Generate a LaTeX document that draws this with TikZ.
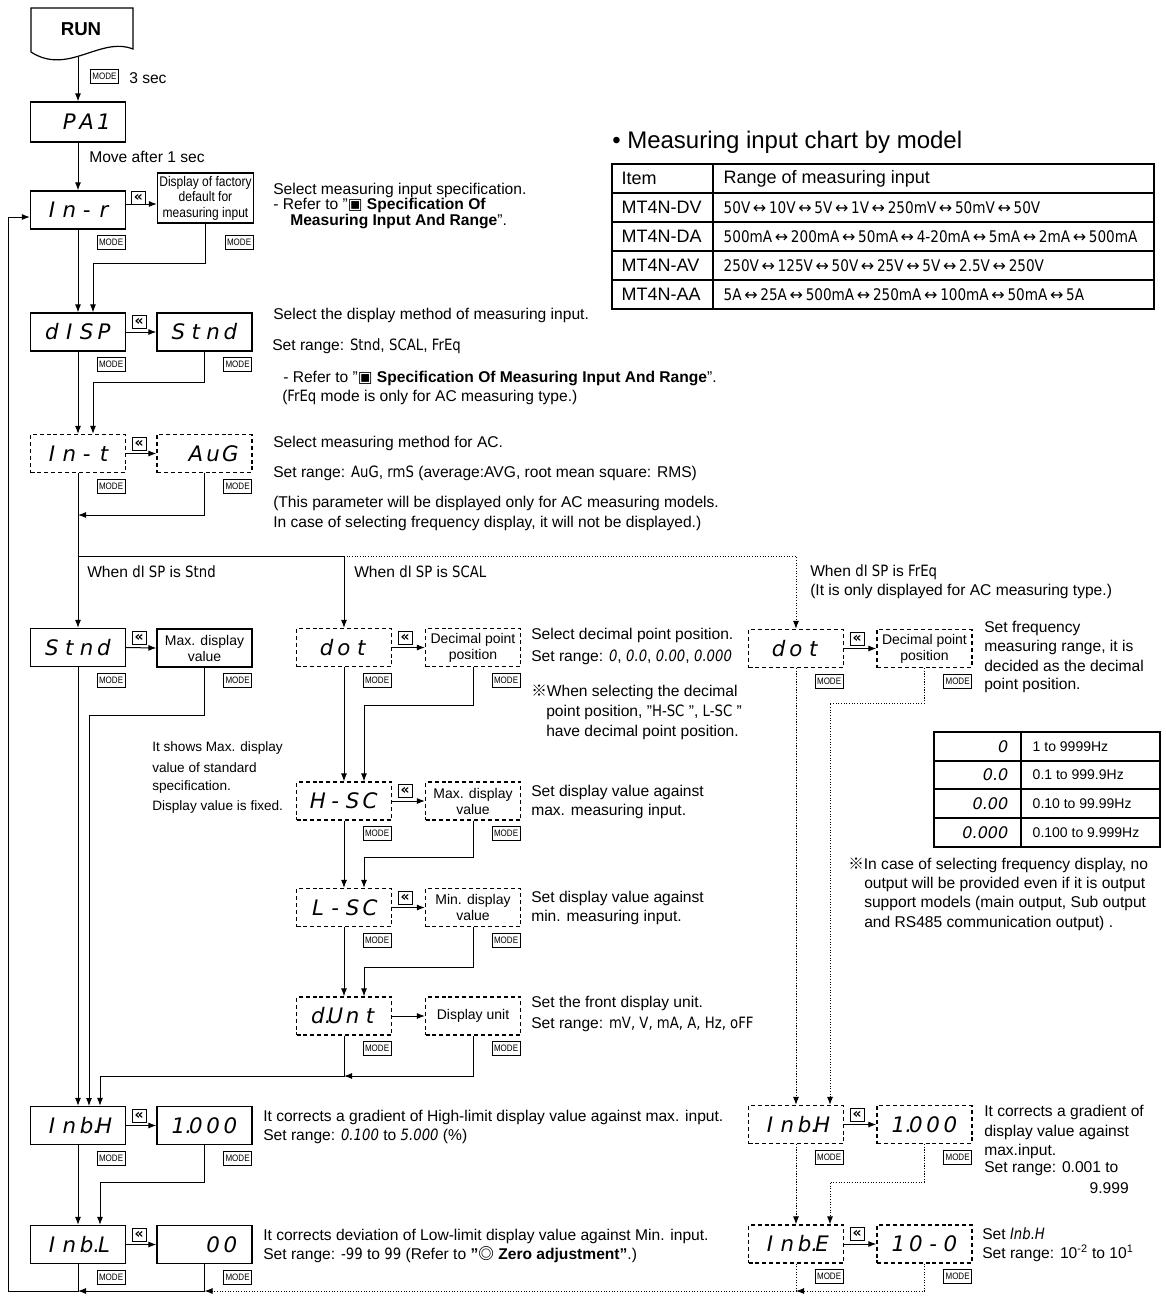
\documentclass[tikz,border=0pt]{standalone}
\usepackage{fontspec}
\setmainfont{Liberation Sans}
\newfontfamily\djv{DejaVu Sans}
\newfontfamily\cjk{Noto Sans CJK JP}
\newfontfamily\nrw[FakeStretch=0.86]{Liberation Sans}
\newfontfamily\segf{DejaVu Sans}
\newfontfamily\segin[FakeStretch=0.85]{DejaVu Sans}
\usetikzlibrary{arrows.meta,calc}
\newcommand\fs[2]{\fontsize{#1pt}{#2pt}\selectfont}
\newcommand\bodyf{\fs{11.7}{14}}
\newcommand\dg[1]{\makebox[13pt][c]{#1}}
\newcommand\sg[1]{{\segin #1}}
\newcommand\sgi[1]{{\segin\itshape #1}}
\newcommand\lr{{\djv\,↔\,}}
\newcommand\refm{{\cjk ※}}
\newcommand\dmk{{\cjk ◎}}
\newcommand\sqm{{\djv ▣}}
\newcommand\tline[4]{\node[txt] (#1) at (#2,#3) {#4};}
\newcommand\modeof[2]{\node[modebox] (#1) at ($(#2.south east)+(-15,13)$) {MODE};}
\newcommand\backof[2]{\node[backbox] (#1) at ($(#2.east)+(13,-10)$) {«};}
\tikzset{
  segbox/.style={draw, line width=0.9pt, minimum width=71.25pt, minimum height=28.5pt, inner sep=0pt, font={\segf\itshape\fs{16}{16}}},
  dsegbox/.style={segbox, dash pattern=on 3pt off 2.2pt},
  vbox/.style={draw, line width=0.9pt, minimum width=71.25pt, minimum height=28.5pt, inner sep=0pt, align=center, font={\fs{10.5}{12}}},
  dvbox/.style={vbox, dash pattern=on 3pt off 2.2pt},
  modebox/.style={draw, line width=0.6pt, minimum width=21pt, minimum height=10.5pt, inner sep=0pt, font={\nrw\fs{7}{7}}},
  backbox/.style={draw, line width=0.6pt, minimum width=10.5pt, minimum height=9.75pt, inner sep=0pt, font={\djv\bfseries\fs{10.5}{10.5}}},
  txt/.style={anchor=west, inner sep=0pt, font=\bodyf},
  arr/.style={line width=0.75pt, -{Latex[length=6pt,width=4.5pt]}},
  ln/.style={line width=0.75pt},
  dl/.style={dash pattern=on 0.8pt off 1.2pt},
  tabl/.style={line width=0.8pt},
}
\begin{document}
\begin{tikzpicture}[x=0.75pt,y=-0.75pt]
\useasboundingbox (0,0) rectangle (1165,1297);

% ---------- RUN ----------
\draw[line width=0.9pt] (31,8) -- (133,8) -- (133,49) .. controls (100,36) and (68,76) .. (31,52) -- cycle;
\node[font={\bfseries\fs{14}{14}}] (run) at (81,29) {RUN};
\coordinate (runb) at (78,57);
\node[segbox, minimum height=30pt] (pa1) at (78,122) {\dg{}\dg{P}\dg{A}\dg{1}};
\node[modebox] (m0) at (104.5,76.5) {MODE};
\tline{t3s}{129}{78}{3 sec}
\draw[arr] (runb) -- (pa1.north);
\tline{tmv}{89}{157}{Move after 1 sec}

% ---------- In-r ----------
\node[segbox] (inr) at (78,210) {\dg{I}\dg{n}\dg{-}\dg{r}};
\node[vbox, minimum width=72pt, minimum height=37.5pt, font={\nrw\fs{10.5}{11.6}}] (fac) at (205.5,198) {Display of factory\\default for\\measuring input};
\node[backbox] (b0) at (138.5,198) {«};
\coordinate (j0) at (140,204);
\draw[arr] (inr.east |- j0) -- (fac.west |- j0);
\modeof{m1}{inr}
\node[modebox] (m2) at ($(fac.east |- inr.south)+(-15,13)$) {MODE};
\draw[arr] (pa1.south) -- (inr.north);
\tline{ta1}{273}{190}{Select measuring input specification.}
\tline{ta2}{273}{205.5}{- Refer to "\textbf{\sqm{} Specification Of}}
\tline{ta3}{290}{221}{\textbf{Measuring Input And Range}".}

% ---------- table ----------
\node[anchor=west, inner sep=0pt, font={\fs{18}{20}}] (ttl) at (612,142) {• Measuring input chart by model};
\draw[tabl] (612,164) rectangle (1154,309);
\foreach \yy in {193,222,251,280} \draw[tabl] (612,\yy) -- (1154,\yy);
\draw[tabl] (713,164) -- (713,309);
\node[anchor=west, font={\fs{13.5}{14}}] (c11) at (617,178.5) {Item};
\node[anchor=west, font={\fs{13.5}{14}}] (c12) at (719,178.5) {Range of measuring input};
\node[anchor=west, font={\fs{13.5}{14}}] (c21) at (617,207.5) {MT4N-DV};
\node[anchor=west, font={\fs{13.5}{14}}] (c31) at (617,236.5) {MT4N-DA};
\node[anchor=west, font={\fs{13.5}{14}}] (c41) at (617,265.5) {MT4N-AV};
\node[anchor=west, font={\fs{13.5}{14}}] (c51) at (617,294.5) {MT4N-AA};
\node[anchor=west, font={\segin\fs{12}{12}}] (c22) at (719,207.5) {50V\lr 10V\lr 5V\lr 1V\lr 250mV\lr 50mV\lr 50V};
\node[anchor=west, font={\segin\fs{12}{12}}] (c32) at (719,236.5) {500mA\lr 200mA\lr 50mA\lr 4-20mA\lr 5mA\lr 2mA\lr 500mA};
\node[anchor=west, font={\segin\fs{12}{12}}] (c42) at (719,265.5) {250V\lr 125V\lr 50V\lr 25V\lr 5V\lr 2.5V\lr 250V};
\node[anchor=west, font={\segin\fs{12}{12}}] (c52) at (719,294.5) {5A\lr 25A\lr 500mA\lr 250mA\lr 100mA\lr 50mA\lr 5A};

% ---------- dISP ----------
\node[segbox] (dsp) at (78,332) {\dg{d}\dg{I}\dg{S}\dg{P}};
\node[segbox] (stnd) at (204.5,332) {\dg{S}\dg{t}\dg{n}\dg{d}};
\backof{b1}{dsp}
\modeof{m3}{dsp}
\modeof{m4}{stnd}
\coordinate (j1) at (93,263);
\draw[arr] (inr.south) -- (dsp.north);
\draw[arr] (fac.south) |- (j1) -- (j1 |- dsp.north);
\draw[arr] (dsp.east) -- (stnd.west);
\tline{tb1}{273}{315}{Select the display method of measuring input.}
\tline{tb2}{272}{346}{Set range: \sg{Stnd}, \sg{SCAL}, \sg{FrEq}}
\tline{tb3}{283}{378}{- Refer to "\textbf{\sqm{} Specification Of Measuring Input And Range}".}
\tline{tb4}{282}{397}{(\sg{FrEq} mode is only for AC measuring type.)}

% ---------- In-t ----------
\node[dsegbox] (int) at (78,453.5) {\dg{I}\dg{n}\dg{-}\dg{t}};
\node[dsegbox] (aug) at (204.5,453.5) {\dg{}\dg{A}\dg{u}\dg{G}};
\backof{b2}{int}
\modeof{m5}{int}
\modeof{m6}{aug}
\coordinate (j2) at (93,382);
\draw[arr] (dsp.south) -- (int.north);
\draw[arr] (stnd.south) |- (j2) -- (j2 |- int.north);
\draw[arr] (int.east) -- (aug.west);
\coordinate (j3) at (78,515);
\draw[arr] (aug.south) |- (j3);
\tline{tc1}{273}{443}{Select measuring method for AC.}
\tline{tc2}{273}{473}{Set range: \sg{AuG}, \sg{rmS} (average:AVG, root mean square: RMS)}
\tline{tc3}{273}{503}{(This parameter will be displayed only for AC measuring models.}
\tline{tc4}{273}{523}{In case of selecting frequency display, it will not be displayed.)}

% ---------- branches ----------
\node[segbox] (stnd2) at (78,647.5) {\dg{S}\dg{t}\dg{n}\dg{d}};
\node[vbox] (maxa) at (204.5,648) {Max. display\\value};
\node[dsegbox] (dot) at (344,647.5) {\dg{d}\dg{o}\dg{t}};
\node[dvbox] (dpa) at (473,647.5) {Decimal point\\position};
\node[dsegbox] (fdot) at (796,648.5) {\dg{d}\dg{o}\dg{t}};
\node[dvbox] (fdp) at (924.5,648.5) {Decimal point\\position};
\coordinate (j4) at (78,556);
\draw[arr] (int.south) -- (stnd2.north);
\draw[arr] (j4) -| (dot.north);
\draw[arr, dl] (dot.north |- j4) -| (fdot.north);
\tline{tw1}{87}{572}{When \sg{dI SP} is \sg{Stnd}}
\tline{tw2}{354}{572}{When \sg{dI SP} is \sg{SCAL}}
\tline{tw3}{810}{572}{When \sg{dI SP} is \sg{FrEq}}
\tline{tw4}{810}{591}{(It is only displayed for AC measuring type.)}

% Stnd branch
\backof{b3}{stnd2}
\modeof{m7}{stnd2}
\modeof{m8}{maxa}
\draw[arr] (stnd2.east) -- (maxa.west);
\coordinate (j6) at (89,715);
\draw[arr] (maxa.south) |- (j6) -- (j6 |- 0,1106);
\node[anchor=west, inner sep=0pt, font={\fs{10.2}{12}}] (ts1) at (152,748) {It shows Max. display};
\node[anchor=west, inner sep=0pt, font={\fs{10.2}{12}}] (ts2) at (152,767.5) {value of standard};
\node[anchor=west, inner sep=0pt, font={\fs{10.2}{12}}] (ts3) at (152,787) {specification.};
\node[anchor=west, inner sep=0pt, font={\fs{10.2}{12}}] (ts4) at (152,807) {Display value is fixed.};

% SCAL branch
\backof{b4}{dot}
\modeof{m9}{dot}
\modeof{m10}{dpa}
\draw[arr] (dot.east) -- (dpa.west);
\tline{td1}{531}{635}{Select decimal point position.}
\tline{td2}{531}{657}{Set range: \sgi{0}, \sgi{0.0}, \sgi{0.00}, \sgi{0.000}}
\tline{td3}{531}{692}{\refm When selecting the decimal}
\tline{td4}{546}{712}{point position, "\sg{H-SC} ", \sg{L-SC} "}
\tline{td5}{546}{732}{have decimal point position.}

\node[dsegbox] (hsc) at (344,801) {\dg{H}\dg{-}\dg{S}\dg{C}};
\node[dvbox] (maxb) at (473,801) {Max. display\\value};
\coordinate (j7) at (364,705);
\draw[arr] (dot.south) -- (hsc.north);
\draw[arr] (dpa.south) |- (j7) -- (j7 |- hsc.north);
\backof{b5}{hsc}
\modeof{m11}{hsc}
\modeof{m12}{maxb}
\draw[arr] (hsc.east) -- (maxb.west);
\tline{th1}{531}{792}{Set display value against}
\tline{th2}{531}{811}{max. measuring input.}

\node[dsegbox] (lsc) at (344,907.5) {\dg{L}\dg{-}\dg{S}\dg{C}};
\node[dvbox] (minb) at (473,907.5) {Min. display\\value};
\coordinate (j8) at (364,857);
\draw[arr] (hsc.south) -- (lsc.north);
\draw[arr] (maxb.south) |- (j8) -- (j8 |- lsc.north);
\backof{b6}{lsc}
\modeof{m13}{lsc}
\modeof{m14}{minb}
\draw[arr] (lsc.east) -- (minb.west);
\tline{tl1}{531}{898}{Set display value against}
\tline{tl2}{531}{917}{min. measuring input.}

\node[dsegbox] (dunt) at (344,1016) {\dg{d\rlap{.}}\dg{U}\dg{n}\dg{t}};
\node[dvbox] (dunit) at (473,1016) {Display unit};
\coordinate (j9) at (364,967);
\draw[arr] (lsc.south) -- (dunt.north);
\draw[arr] (minb.south) |- (j9) -- (j9 |- dunt.north);
\modeof{m15}{dunt}
\modeof{m16}{dunit}
\draw[arr] (dunt.east) -- (dunit.west);
\tline{tu1}{531}{1003}{Set the front display unit.}
\tline{tu2}{531}{1024}{Set range: \sg{mV, V, mA, A, Hz, oFF}}

% ---------- Inb.H / Inb.L ----------
\node[segbox] (inbh) at (78,1125.5) {\dg{I}\dg{n}\dg{b\rlap{.}}\dg{H}};
\node[segbox] (v1) at (204.5,1125.5) {\dg{1\rlap{.}}\dg{0}\dg{0}\dg{0}};
\backof{b7}{inbh}
\modeof{m17}{inbh}
\modeof{m18}{v1}
\draw[arr] (inbh.east) -- (v1.west);
\draw[arr] (stnd2.south) -- (inbh.north);
\coordinate (j10) at (344,1076);
\coordinate (j11) at (100,1076);
\draw[arr] (dunit.south) |- (j10);
\draw[arr] (dunt.south) |- (j11) -- (j11 |- inbh.north);
\tline{ti1}{263}{1117}{It corrects a gradient of High-limit display value against max. input.}
\tline{ti2}{263}{1136}{Set range: \sgi{0.100} to \sgi{5.000} (\%)}

\node[segbox] (inbl) at (78,1244.5) {\dg{I}\dg{n}\dg{b\rlap{.}}\dg{L}};
\node[segbox] (v00) at (204.5,1244.5) {\dg{}\dg{}\dg{0}\dg{0}};
\backof{b8}{inbl}
\modeof{m19}{inbl}
\modeof{m20}{v00}
\draw[arr] (inbl.east) -- (v00.west);
\draw[arr] (inbh.south) -- (inbl.north);
\coordinate (j12) at (100,1182);
\draw[arr] (v1.south) |- (j12) -- (j12 |- inbl.north);
\tline{tj1}{263}{1236}{It corrects deviation of Low-limit display value against Min. input.}
\tline{tj2}{263}{1255}{Set range: \sg{-99} to \sg{99} (Refer to \textbf{"\dmk{} Zero adjustment"}.)}

% ---------- FrEq branch ----------
\backof{b9}{fdot}
\modeof{m21}{fdot}
\modeof{m22}{fdp}
\draw[arr] (fdot.east) -- (fdp.west);
\tline{tf1}{984}{628}{Set frequency}
\tline{tf2}{984}{647}{measuring range, it is}
\tline{tf3}{984}{666}{decided as the decimal}
\tline{tf4}{984}{685}{point position.}

\draw[tabl] (934,732) rectangle (1160,847);
\foreach \yy in {761,789,818} \draw[tabl] (934,\yy) -- (1160,\yy);
\draw[tabl] (1021,732) -- (1021,847);
\node[anchor=east, font={\segf\itshape\fs{12}{12}}] (q1) at (1013,746.5) {0};
\node[anchor=east, font={\segf\itshape\fs{12}{12}}] (q2) at (1013,775) {0.0};
\node[anchor=east, font={\segf\itshape\fs{12}{12}}] (q3) at (1013,803.5) {0.00};
\node[anchor=east, font={\segf\itshape\fs{12}{12}}] (q4) at (1013,832.5) {0.000};
\node[anchor=west, font={\fs{10.5}{12}}] (r1) at (1028,746.5) {1 to 9999Hz};
\node[anchor=west, font={\fs{10.5}{12}}] (r2) at (1028,775) {0.1 to 999.9Hz};
\node[anchor=west, font={\fs{10.5}{12}}] (r3) at (1028,803.5) {0.10 to 99.99Hz};
\node[anchor=west, font={\fs{10.5}{12}}] (r4) at (1028,832.5) {0.100 to 9.999Hz};
\tline{tn1}{848}{865}{\refm In case of selecting frequency display, no}
\tline{tn2}{864}{884}{output will be provided even if it is output}
\tline{tn3}{864}{903}{support models (main output, Sub output}
\tline{tn4}{864}{923}{and RS485 communication output) .}

\node[dsegbox] (finbh) at (796,1124.5) {\dg{I}\dg{n}\dg{b\rlap{.}}\dg{H}};
\node[dsegbox] (f1) at (924.5,1124.5) {\dg{1\rlap{.}}\dg{0}\dg{0}\dg{0}};
\coordinate (j13) at (830,703);
\draw[arr, dl] (fdot.south) -- (finbh.north);
\draw[arr, dl] (fdp.south) |- (j13) -- (j13 |- finbh.north);
\backof{b10}{finbh}
\modeof{m23}{finbh}
\modeof{m24}{f1}
\draw[arr] (finbh.east) -- (f1.west);
\tline{tg1}{984}{1112}{It corrects a gradient of}
\tline{tg2}{984}{1132}{display value against}
\tline{tg3}{984}{1151}{max.input.}
\tline{tg4}{984}{1169}{Set range: 0.001 to}
\node[anchor=east, inner sep=0pt, font=\bodyf] (tg5) at (1129,1188) {9.999};

\node[dsegbox] (finbe) at (796,1244) {\dg{I}\dg{n}\dg{b\rlap{.}}\dg{E}};
\node[dsegbox] (f10) at (924.5,1244) {\dg{1}\dg{0}\dg{-}\dg{0}};
\coordinate (j14) at (830,1182);
\draw[arr, dl] (finbh.south) -- (finbe.north);
\draw[arr, dl] (f1.south) |- (j14) -- (j14 |- finbe.north);
\backof{b11}{finbe}
\modeof{m25}{finbe}
\modeof{m26}{f10}
\draw[arr] (finbe.east) -- (f10.west);
\tline{tk1}{982}{1234}{Set \sgi{Inb.H}}
\tline{tk2}{982}{1253}{Set range: 10\textsuperscript{-2} to 10\textsuperscript{1}}

% ---------- return loop ----------
\coordinate (lb) at (8,1291);
\coordinate (lt) at (8,217);
\draw[arr] (inbl.south) |- (lb) -- (lt) -- (lt -| inr.west);
\draw[arr] (v00.south) |- (inbl.south |- lb);
\draw[arr, dl] (finbe.south) |- (v00.south |- lb);
\draw[arr, dl] (f10.south) |- (finbe.south |- lb);
\end{tikzpicture}
\end{document}
